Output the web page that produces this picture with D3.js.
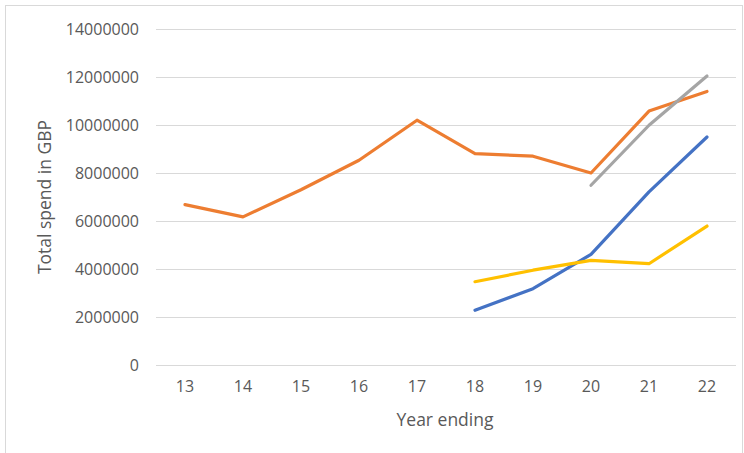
<!DOCTYPE html>
<html>
<head>
<meta charset="utf-8">
<script src="https://cdn.jsdelivr.net/npm/d3@7"></script>
<style>
  body { margin: 0; background: #fff; }
  svg { display: block; font-family: "Open Sans", sans-serif; }
</style>
</head>
<body>
<div id="chart"></div>
<script>
// --- data ---
const years = ["13", "14", "15", "16", "17", "18", "19", "20", "21", "22"];
const yTicks = [0, 2000000, 4000000, 6000000, 8000000, 10000000, 12000000, 14000000];

// null = no value for that year
const blueSeries   = [null, null, null, null, null, 2280000, 3180000, 4610000, 7210000, 9500000];
const orangeSeries = [6680000, 6170000, 7300000, 8530000, 10200000, 8810000, 8700000, 8000000, 10580000, 11400000];
const graySeries   = [null, null, null, null, null, null, null, 7490000, 9990000, 12040000];
const yellowSeries = [null, null, null, null, null, 3470000, 3950000, 4360000, 4220000, 5790000];

const series = [
  { values: orangeSeries, color: "#ED7D31" },
  { values: graySeries,   color: "#A5A5A5" },
  { values: blueSeries,   color: "#4472C4" },
  { values: yellowSeries, color: "#FFC000" },
];

// --- layout ---
const width = 744, height = 453;
const margin = { top: 29, right: 8, bottom: 88, left: 156 };
const plotRight = 736;

const svg = d3.select("#chart").append("svg")
  .attr("width", width)
  .attr("height", height);

// chart frame
svg.append("rect")
  .attr("x", 5.5).attr("y", 5.5)
  .attr("width", 737).attr("height", 450)
  .attr("fill", "none")
  .attr("stroke", "#d9d9d9");

const x = d3.scaleBand()
  .domain(years)
  .range([margin.left, plotRight]);

const y = d3.scaleLinear()
  .domain([0, 14000000])
  .range([height - margin.bottom, margin.top]);

// gridlines
svg.append("g")
  .selectAll("line")
  .data(yTicks)
  .join("line")
  .attr("x1", margin.left)
  .attr("x2", plotRight)
  .attr("y1", d => Math.round(y(d)) + 0.5)
  .attr("y2", d => Math.round(y(d)) + 0.5)
  .attr("stroke", "#d9d9d9")
  .attr("stroke-width", 1);

// y axis labels
const yAxis = svg.append("g")
  .attr("transform", `translate(${margin.left - 17},0)`)
  .call(d3.axisLeft(y).tickValues(yTicks).tickFormat(d3.format("d")).tickSize(0).tickPadding(0));
yAxis.select(".domain").remove();
yAxis.selectAll("text")
  .attr("fill", "#595959")
  .style("font-size", "16px")
  .style("font-family", "'Open Sans', sans-serif");

// x axis labels
const xAxis = svg.append("g")
  .attr("transform", `translate(0,${height - margin.bottom})`)
  .call(d3.axisBottom(x).tickSize(0).tickPadding(16));
xAxis.select(".domain").remove();
xAxis.selectAll("text")
  .attr("fill", "#595959")
  .style("font-size", "16px")
  .style("font-family", "'Open Sans', sans-serif");

// axis titles
svg.append("text")
  .attr("x", (margin.left + plotRight) / 2 - 1)
  .attr("y", 426)
  .attr("text-anchor", "middle")
  .attr("fill", "#595959")
  .style("font-size", "17.5px")
  .text("Year ending");

svg.append("text")
  .attr("transform", `translate(51,${(y(0) + y(14000000)) / 2}) rotate(-90)`)
  .attr("text-anchor", "middle")
  .attr("fill", "#595959")
  .style("font-size", "17.5px")
  .text("Total spend in GBP");

// lines
const line = d3.line()
  .defined(d => d != null)
  .x((d, i) => x(years[i]) + x.bandwidth() / 2)
  .y(d => y(d));

svg.append("g")
  .selectAll("path")
  .data(series)
  .join("path")
  .attr("d", d => line(d.values))
  .attr("fill", "none")
  .attr("stroke", d => d.color)
  .attr("stroke-width", 3.2)
  .attr("stroke-linecap", "round")
  .attr("stroke-linejoin", "round");
</script>
</body>
</html>
